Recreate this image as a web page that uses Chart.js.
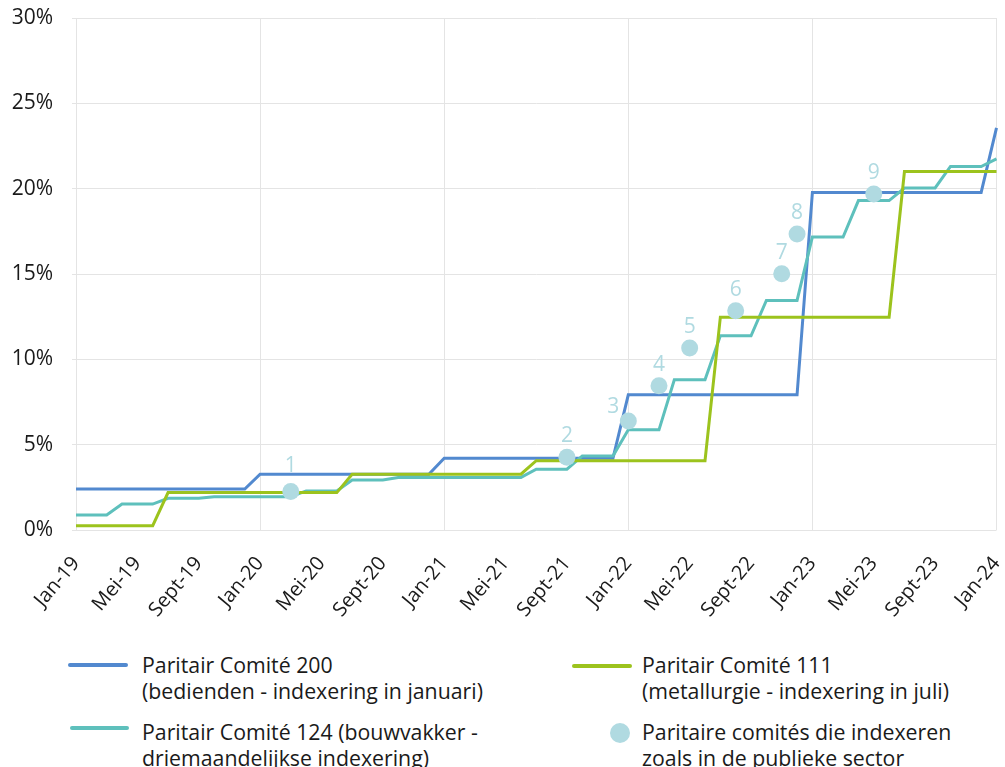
<!DOCTYPE html>
<html>
<head>
<meta charset="utf-8">
<script src="https://cdn.jsdelivr.net/npm/chart.js@4.4.1/dist/chart.umd.min.js"></script>
<style>
  html, body { margin: 0; padding: 0; background: #ffffff; }
  body { width: 1005px; height: 767px; position: relative; overflow: hidden; font-family: "Open Sans", "Noto Sans", sans-serif; color: #1a1a1a; }
  #wrap { position: absolute; left: 0; top: 0; width: 1005px; height: 640px; }
  .lg-line { position: absolute; height: 4px; border-radius: 2px; }
  .lg-dot { position: absolute; width: 20px; height: 20px; border-radius: 50%; }
  .lg-text { position: absolute; font-size: 21.3px; line-height: 26px; white-space: nowrap; color: #1a1a1a; }
</style>
</head>
<body>
<div id="wrap"><canvas id="c" width="1005" height="640"></canvas></div>
<div id="legend"></div>
<script>
// ---- Data ----
const categories = [
  'Jan-19','Feb-19','Maa-19','Apr-19','Mei-19','Jun-19','Jul-19','Aug-19','Sept-19','Okt-19','Nov-19','Dec-19',
  'Jan-20','Feb-20','Maa-20','Apr-20','Mei-20','Jun-20','Jul-20','Aug-20','Sept-20','Okt-20','Nov-20','Dec-20',
  'Jan-21','Feb-21','Maa-21','Apr-21','Mei-21','Jun-21','Jul-21','Aug-21','Sept-21','Okt-21','Nov-21','Dec-21',
  'Jan-22','Feb-22','Maa-22','Apr-22','Mei-22','Jun-22','Jul-22','Aug-22','Sept-22','Okt-22','Nov-22','Dec-22',
  'Jan-23','Feb-23','Maa-23','Apr-23','Mei-23','Jun-23','Jul-23','Aug-23','Sept-23','Okt-23','Nov-23','Dec-23',
  'Jan-24'
];

// Paritair Comité 200 (bedienden - indexering in januari)
const pc200 = [
  2.4,2.4,2.4,2.4,2.4,2.4,2.4,2.4,2.4,2.4,2.4,2.4,
  3.27,3.27,3.27,3.27,3.27,3.27,3.27,3.27,3.27,3.27,3.27,3.27,
  4.2,4.2,4.2,4.2,4.2,4.2,4.2,4.2,4.2,4.2,4.2,4.2,
  7.92,7.92,7.92,7.92,7.92,7.92,7.92,7.92,7.92,7.92,7.92,7.92,
  19.78,19.78,19.78,19.78,19.78,19.78,19.78,19.78,19.78,19.78,19.78,19.78,
  23.56
];

// Paritair Comité 111 (metallurgie - indexering in juli)
const pc111 = [
  0.25,0.25,0.25,0.25,0.25,0.25,
  2.19,2.19,2.19,2.19,2.19,2.19,2.19,2.19,2.19,2.19,2.19,2.19,
  3.27,3.27,3.27,3.27,3.27,3.27,3.27,3.27,3.27,3.27,3.27,3.27,
  4.06,4.06,4.06,4.06,4.06,4.06,4.06,4.06,4.06,4.06,4.06,4.06,
  12.47,12.47,12.47,12.47,12.47,12.47,12.47,12.47,12.47,12.47,12.47,12.47,
  21.0,21.0,21.0,21.0,21.0,21.0,21.0
];

// Paritair Comité 124 (bouwvakker - driemaandelijkse indexering)
const pc124 = [
  0.88,0.88,0.88, 1.52,1.52,1.52, 1.86,1.86,1.86, 1.95,1.95,1.95,
  1.95,1.95,1.95, 2.29,2.29,2.29, 2.93,2.93,2.93, 3.08,3.08,3.08,
  3.08,3.08,3.08, 3.08,3.08,3.08, 3.56,3.56,3.56, 4.34,4.34,4.34,
  5.87,5.87,5.87, 8.8,8.8,8.8, 11.38,11.38,11.38, 13.45,13.45,13.45,
  17.17,17.17,17.17, 19.3,19.3,19.3, 20.04,20.04,20.04, 21.3,21.3,21.3,
  21.74
];

// Paritaire comités die indexeren zoals in de publieke sector
const dotMonths = ['Maa-20','Sept-21','Jan-22','Maa-22','Mei-22','Aug-22','Nov-22','Dec-22','Mei-23'];
const dotValues = [2.25, 4.26, 6.39, 8.45, 10.66, 12.84, 15.01, 17.34, 19.69];
const dotLabels = ['1','2','3','4','5','6','7','8','9'];

const yTicks = [0, 5, 10, 15, 20, 25, 30];

const seriesNames = [
  ['Paritair Comité 200', '(bedienden - indexering in januari)'],
  ['Paritair Comité 111', '(metallurgie - indexering in juli)'],
  ['Paritair Comité 124 (bouwvakker -', 'driemaandelijkse indexering)'],
  ['Paritaire comités die indexeren', 'zoals in de publieke sector']
];

// ---- Styles ----
const C_BLUE = '#5289cf';
const C_GREEN = '#9cc31d';
const C_TEAL = '#5ec0bc';
const C_DOT = '#b0dae1';
const C_GRID = '#e4e4e4';
const FONT = '"Open Sans", "Noto Sans", sans-serif';
// label placement relative to each dot (style only)
const LABEL_DEFAULT = { dx: 0, dy: -15 };
const LABEL_SPECIAL = { 0: { dx: 0, dy: -20 }, 2: { dx: -15, dy: -8 } };

const dotLabelPlugin = {
  id: 'dotLabels',
  afterDatasetsDraw(chart) {
    const meta = chart.getDatasetMeta(0);
    const ctx = chart.ctx;
    ctx.save();
    ctx.font = '21px ' + FONT;
    ctx.fillStyle = C_DOT;
    ctx.textAlign = 'center';
    ctx.textBaseline = 'alphabetic';
    meta.data.forEach((el, i) => {
      const o = LABEL_SPECIAL[i] || LABEL_DEFAULT;
      ctx.fillText(dotLabels[i], el.x + o.dx, el.y + o.dy);
    });
    ctx.restore();
  }
};

new Chart(document.getElementById('c'), {
  type: 'line',
  data: {
    labels: categories,
    datasets: [
      {
        label: seriesNames[3].join(' '),
        data: dotMonths.map((m, i) => ({ x: m, y: dotValues[i] })),
        showLine: false,
        pointRadius: 8.5,
        pointBackgroundColor: C_DOT,
        pointBorderWidth: 0,
        order: 0
      },
      {
        label: seriesNames[1].join(' '),
        data: pc111,
        borderColor: C_GREEN,
        borderWidth: 3,
        pointRadius: 0,
        tension: 0,
        order: 1
      },
      {
        label: seriesNames[2].join(' '),
        data: pc124,
        borderColor: C_TEAL,
        borderWidth: 3,
        pointRadius: 0,
        tension: 0,
        order: 2
      },
      {
        label: seriesNames[0].join(' '),
        data: pc200,
        borderColor: C_BLUE,
        borderWidth: 3,
        pointRadius: 0,
        tension: 0,
        order: 3
      }
    ]
  },
  options: {
    responsive: false,
    animation: false,
    devicePixelRatio: 1,
    layout: { padding: { top: 18, right: 8, left: 0, bottom: 0 } },
    plugins: { legend: { display: false }, tooltip: { enabled: false } },
    scales: {
      x: {
        type: 'category',
        offset: false,
        grid: {
          color: (c) => (c.index % 12 === 0 ? C_GRID : 'rgba(0,0,0,0)'),
          drawTicks: false,
          lineWidth: 1
        },
        border: { display: false },
        ticks: {
          autoSkip: false,
          minRotation: 50,
          maxRotation: 50,
          padding: 22,
          color: '#1a1a1a',
          font: { family: FONT, size: 20 },
          callback: function (value, index) {
            return index % 4 === 0 ? this.getLabelForValue(value) : '';
          }
        },
        afterFit: (s) => { s.height = 110; s.paddingLeft = 0; s.paddingRight = 0; }
      },
      y: {
        min: 0,
        max: 30,
        afterBuildTicks: (s) => { s.ticks = yTicks.map(v => ({ value: v })); },
        grid: { color: C_GRID, tickLength: 4, lineWidth: 1 },
        border: { display: true, color: C_GRID },
        ticks: {
          padding: 19,
          color: '#1a1a1a',
          font: { family: FONT, size: 21 },
          callback: (v) => v + '%'
        },
        afterFit: (s) => { s.width = 76; s.paddingTop = 0; s.paddingBottom = 0; }
      }
    }
  },
  plugins: [dotLabelPlugin]
});

// ---- HTML legend ----
const legend = document.getElementById('legend');
function addLine(x, y, w, color) {
  const d = document.createElement('div');
  d.className = 'lg-line';
  d.style.left = x + 'px'; d.style.top = (y - 2) + 'px'; d.style.width = w + 'px'; d.style.background = color;
  legend.appendChild(d);
}
function addDot(cx, cy, color) {
  const d = document.createElement('div');
  d.className = 'lg-dot';
  d.style.left = (cx - 10) + 'px'; d.style.top = (cy - 10) + 'px'; d.style.background = color;
  legend.appendChild(d);
}
function addText(x, y, lines) {
  const d = document.createElement('div');
  d.className = 'lg-text';
  d.style.left = x + 'px'; d.style.top = y + 'px';
  lines.forEach((l, i) => {
    if (i) d.appendChild(document.createElement('br'));
    d.appendChild(document.createTextNode(l));
  });
  legend.appendChild(d);
}
addLine(68, 665, 60, C_BLUE);
addText(142, 652, seriesNames[0]);
addLine(70, 728, 59, C_TEAL);
addText(142, 719, seriesNames[2]);
addLine(572, 666, 60, C_GREEN);
addText(642, 652, seriesNames[1]);
addDot(620, 733, C_DOT);
addText(642, 719, seriesNames[3]);
</script>
</body>
</html>
